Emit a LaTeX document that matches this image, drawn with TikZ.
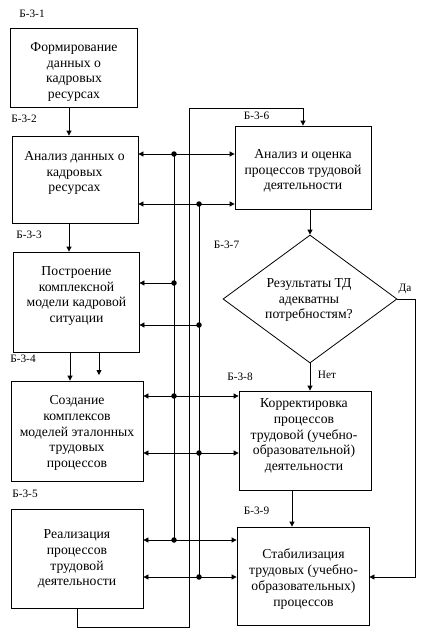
\documentclass[tikz,border=0pt]{standalone}
\usepackage{fontspec}
\setmainfont{Liberation Serif}
\usetikzlibrary{arrows.meta,shapes.geometric}
\begin{document}
\begin{tikzpicture}[x=1pt,y=-1pt,
  blk/.style={draw,line width=0.8pt,rectangle,inner sep=0pt},
  dia/.style={draw,line width=0.8pt,diamond,inner sep=0pt},
  txt/.style={align=center,font=\fontsize{13.7}{15.7}\selectfont,inner sep=0pt},
  lbl/.style={font=\fontsize{11.3}{12}\selectfont,inner sep=0pt},
  ln/.style={line width=0.8pt},
  arr/.style={ln,-{Triangle[length=5pt,width=5pt]}},
  darr/.style={ln,{Triangle[length=5pt,width=5pt]}-{Triangle[length=5pt,width=5pt]}},
  dot/.style={circle,fill,inner sep=0pt,minimum size=5.5pt}]
\useasboundingbox (0,0) rectangle (425,635);
\fill[white] (0,0) rectangle (425,635);
% boxes
\node[blk,minimum width=127pt,minimum height=79pt] (b1) at (73.5,67.5) {};
\node[blk,minimum width=126pt,minimum height=87pt] (b2) at (75,179.5) {};
\node[blk,minimum width=126pt,minimum height=100pt] (b3) at (76,302) {};
\node[blk,minimum width=132pt,minimum height=100pt] (b4) at (77,431) {};
\node[blk,minimum width=132pt,minimum height=99pt] (b5) at (77,558.5) {};
\node[blk,minimum width=136pt,minimum height=83pt] (b6) at (303,167.5) {};
\node[dia,minimum width=174pt,minimum height=128pt] (d7) at (310,299) {};
\node[blk,minimum width=132pt,minimum height=99pt] (b8) at (305,440.5) {};
\node[blk,minimum width=132pt,minimum height=98pt] (b9) at (303,576) {};
% texts
\node[txt] (t1) at (74,72) {Формирование\\данных о\\кадровых\\ресурсах};
\node[txt] (t2) at (74.5,173) {Анализ данных о\\кадровых\\ресурсах};
\node[txt] (t3) at (76.5,296) {Построение\\комплексной\\модели кадровой\\ситуации};
\node[txt] (t4) at (77,433) {Создание\\комплексов\\моделей эталонных\\трудовых\\процессов};
\node[txt] (t5) at (77,559) {Реализация\\процессов\\трудовой\\деятельности};
\node[txt] (t6) at (303,171) {Анализ и оценка\\процессов трудовой\\деятельности};
\node[txt] (t7) at (309,300) {Результаты ТД\\адекватны\\потребностям?};
\node[txt] (t8) at (304,436) {Корректировка\\процессов\\трудовой (учебно-\\образовательной)\\деятельности};
\node[txt] (t9) at (303.5,579) {Стабилизация\\трудовых (учебно-\\образовательных)\\процессов};
% labels
\node[lbl] (l1) at (32,14) {Б-3-1};
\node[lbl] (l2) at (24,119) {Б-3-2};
\node[lbl] (l3) at (29,235) {Б-3-3};
\node[lbl] (l4) at (23,359) {Б-3-4};
\node[lbl] (l5) at (25,494) {Б-3-5};
\node[lbl] (l6) at (256.5,116) {Б-3-6};
\node[lbl] (l7) at (226.5,245) {Б-3-7};
\node[lbl] (l8) at (240,377) {Б-3-8};
\node[lbl] (l9) at (256.5,511) {Б-3-9};
\node[lbl] (yes) at (405,289) {Да};
\node[lbl] (no) at (327,375) {Нет};
% vertical arrows
\coordinate (a12) at (69,0);
\coordinate (a34a) at (70,0);
\coordinate (a34b) at (99,375);
\coordinate (a67) at (310,0);
\coordinate (a89) at (292,0);
\draw[arr] (b1.south -| a12) -- (b2.north -| a12);
\draw[arr] (b2.south -| a12) -- (b3.north -| a12);
\draw[arr] (b3.south -| a34a) -- (b4.north -| a34a);
\draw[arr] (b3.south -| a34b) -- (a34b);
\draw[arr] (b6.south -| a67) -- (d7.north);
\draw[arr] (d7.south) -- (b8.north -| a67);
\draw[arr] (b8.south -| a89) -- (b9.north -| a89);
% bus dots
\node[dot] (dA1) at (174,154) {};
\node[dot] (dA2) at (174,283) {};
\node[dot] (dA3) at (174,396) {};
\node[dot] (dA4) at (174,540) {};
\node[dot] (dB1) at (199,204) {};
\node[dot] (dB2) at (199,325) {};
\node[dot] (dB3) at (199,453) {};
\node[dot] (dB4) at (199,577) {};
\draw[ln] (dA1.center) -- (dA4.center);
\draw[ln] (dB1.center) -- (dB4.center);
% horizontals
\draw[darr] (b2.east |- dA1) -- (b6.west |- dA1);
\draw[darr] (b2.east |- dB1) -- (b6.west |- dB1);
\draw[arr] (dA2.center) -- (b3.east |- dA2);
\draw[arr] (dB2.center) -- (b3.east |- dB2);
\draw[darr] (b4.east |- dA3) -- (b8.west |- dA3);
\draw[darr] (b4.east |- dB3) -- (b8.west |- dB3);
\draw[darr] (b5.east |- dA4) -- (b9.west |- dA4);
\draw[darr] (b5.east |- dB4) -- (b9.west |- dB4);
% loop from b5 to b6
\coordinate (Lb) at (189,627);
\coordinate (Lt) at (189,108);
\draw[arr] (b5.south) |- (Lb) -- (Lt) -| (b6.north);
% yes branch
\coordinate (Yc) at (415,299);
\draw[arr] (d7.east) -- (Yc) |- (b9.east |- dB4);
\end{tikzpicture}
\end{document}
